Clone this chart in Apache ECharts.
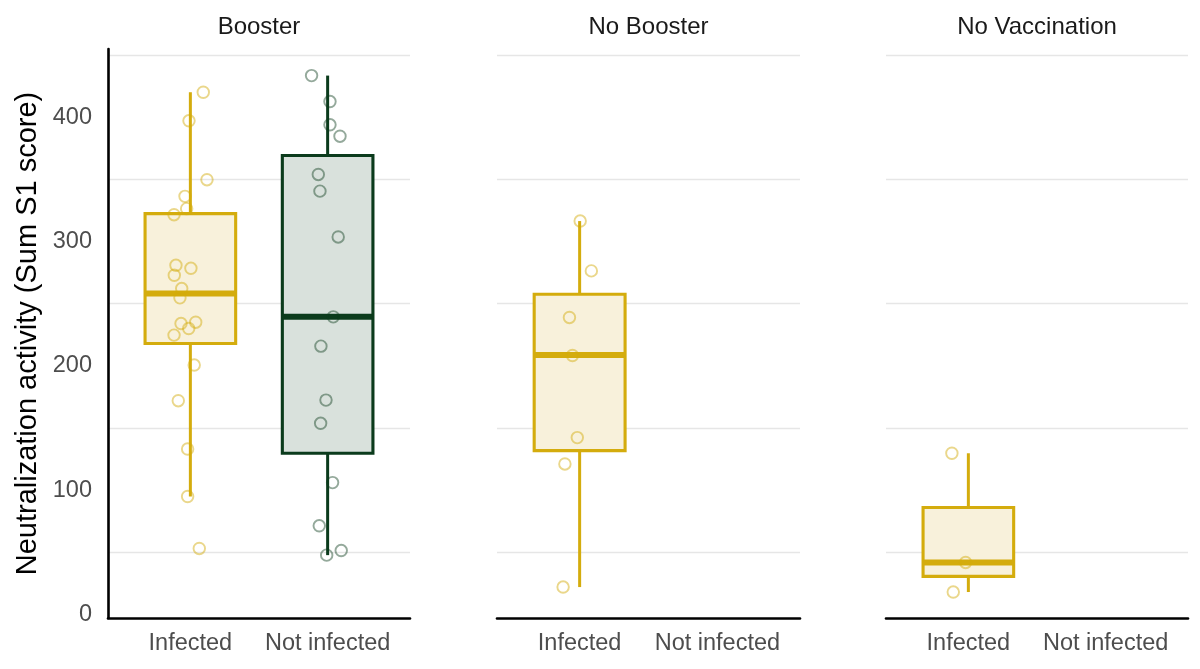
<!DOCTYPE html>
<html>
<head>
<meta charset="utf-8">
<script src="https://cdn.jsdelivr.net/npm/echarts@6.0.0/dist/echarts.min.js"></script>
<style>
html,body{margin:0;padding:0;background:#fff;}
#chart{width:1200px;height:669px;}
</style>
</head>
<body>
<div id="chart"></div>
<script>
// ---- data ----
const facets = ['Booster', 'No Booster', 'No Vaccination'];
const groups = ['Infected', 'Not infected'];
const yTicks = [0, 100, 200, 300, 400];
const yGridValues = [50, 150, 250, 350, 450];

// box stats: [x, lowerWhisker, q1, median, q3, upperWhisker]
const boosterInfectedBox = [[1, 94.8, 218, 258.2, 322.5, 420.2]];
const boosterNotInfectedBox = [[2, 47.6, 129.6, 239.4, 369.3, 433.6]];
const noBoosterInfectedBox = [[1, 21.9, 131.7, 208.6, 257.6, 316.5]];
const noBoosterNotInfectedBox = [];
const noVaxInfectedBox = [[1, 17.9, 30.5, 41.7, 86, 129.6]];
const noVaxNotInfectedBox = [];

// jittered points: [x, value]
const boosterInfectedPts = [[1.094,420.2],[0.99,397.2],[1.121,349.8],[0.961,336.4],[0.973,326.5],[0.881,321.6],[0.895,280.9],[1.004,278.5],[0.883,272.9],[0.937,262.2],[0.924,254.7],[0.932,234],[1.039,235.1],[0.988,230],[0.881,224.7],[1.028,200.6],[0.912,171.9],[0.98,133],[0.98,94.8],[1.065,53]];
const boosterNotInfectedPts = [[1.883,433.6],[2.017,412.7],[2.017,394],[2.09,384.8],[1.932,354],[1.944,340.6],[2.077,303.7],[2.041,239.4],[1.951,215.8],[1.988,172.4],[1.949,153.7],[2.036,106],[1.939,71.2],[1.993,47.6],[2.099,51.3]];
const noBoosterInfectedPts = [[1.004,316.5],[1.085,276.4],[0.926,238.9],[0.948,208.3],[0.983,142.2],[0.893,121],[0.88,21.9]];
const noBoosterNotInfectedPts = [];
const noVaxInfectedPts = [[0.88,129.6],[0.98,41.7],[0.89,17.9]];
const noVaxNotInfectedPts = [];

// ---- styles ----
const FONT = "'Liberation Sans', Arial, Helvetica, sans-serif";
const styles = {
  'Infected': {stroke: '#D4AC0D', fill: '#F8F1DB', point: 'rgba(212,172,13,0.6)'},
  'Not infected': {stroke: '#0B3B1C', fill: '#D9E1DC', point: 'rgba(11,59,28,0.55)'}
};
const BOX_W = 0.66;
const panelLefts = [108, 497, 886];
const panelWidths = [302, 303, 302];

const boxData = [
  [boosterInfectedBox, boosterNotInfectedBox],
  [noBoosterInfectedBox, noBoosterNotInfectedBox],
  [noVaxInfectedBox, noVaxNotInfectedBox]
];
const ptData = [
  [boosterInfectedPts, boosterNotInfectedPts],
  [noBoosterInfectedPts, noBoosterNotInfectedPts],
  [noVaxInfectedPts, noVaxNotInfectedPts]
];

function makeRender(st) {
  return function (params, api) {
    const x = api.value(0);
    const lo = api.coord([x, api.value(1)]);
    const q1 = api.coord([x, api.value(2)]);
    const md = api.coord([x, api.value(3)]);
    const q3 = api.coord([x, api.value(4)]);
    const hi = api.coord([x, api.value(5)]);
    const w = api.size([BOX_W, 0])[0];
    const cx = lo[0];
    return {
      type: 'group',
      children: [
        {type: 'line', shape: {x1: cx, y1: lo[1], x2: cx, y2: q1[1]}, style: {stroke: st.stroke, lineWidth: 3}},
        {type: 'line', shape: {x1: cx, y1: hi[1], x2: cx, y2: q3[1]}, style: {stroke: st.stroke, lineWidth: 3}},
        {type: 'rect', shape: {x: cx - w / 2, y: q3[1], width: w, height: q1[1] - q3[1]}, style: {fill: st.fill, stroke: st.stroke, lineWidth: 3.1}},
        {type: 'line', shape: {x1: cx - w / 2, y1: md[1], x2: cx + w / 2, y2: md[1]}, style: {stroke: st.stroke, lineWidth: 6}}
      ]
    };
  };
}

const grids = [], xAxes = [], yAxes = [], series = [], graphics = [];
facets.forEach(function (f, i) {
  grids.push({left: panelLefts[i], width: panelWidths[i], top: 49, bottom: 51, containLabel: false});
  xAxes.push({
    gridIndex: i, type: 'value', min: 0.4, max: 2.6,
    axisLine: {show: true, onZero: false, lineStyle: {color: '#000', width: 2.6}},
    axisTick: {show: false, customValues: [1, 2]},
    splitLine: {show: false},
    axisLabel: {
      customValues: [1, 2], margin: 14,
      formatter: function (v) { return groups[Math.round(v) - 1]; },
      color: '#4D4D4D', fontSize: 23.5, fontFamily: FONT
    }
  });
  yAxes.push({
    gridIndex: i, type: 'value', min: -3, max: 455,
    name: i === 0 ? 'Neutralization activity (Sum S1 score)' : '',
    nameLocation: 'middle', nameRotate: 90, nameGap: 66,
    nameTextStyle: {color: '#000', fontSize: 29, fontFamily: FONT},
    axisLine: {show: i === 0, onZero: false, lineStyle: {color: '#000', width: 2.6}},
    axisTick: {show: false, customValues: yGridValues},
    axisLabel: {show: i === 0, customValues: yTicks, margin: 16, color: '#4D4D4D', fontSize: 23.5, fontFamily: FONT},
    splitLine: {show: true, lineStyle: {color: '#E6E6E6', width: 1.3}}
  });
  groups.forEach(function (g, j) {
    const st = styles[g];
    series.push({
      type: 'custom', name: f + ' ' + g, xAxisIndex: i, yAxisIndex: i,
      renderItem: makeRender(st), data: boxData[i][j],
      encode: {x: 0, y: [1, 2, 3, 4, 5]}, z: 2, silent: true
    });
    series.push({
      type: 'scatter', name: f + ' ' + g + ' pts', xAxisIndex: i, yAxisIndex: i,
      data: ptData[i][j], symbol: 'circle', symbolSize: 11.5,
      itemStyle: {color: 'rgba(255,255,255,0)', borderColor: st.point, borderWidth: 1.9},
      z: 3, silent: true
    });
  });
  graphics.push({
    type: 'text', x: panelLefts[i] + panelWidths[i] / 2, y: 27,
    style: {text: f, textAlign: 'center', textVerticalAlign: 'middle', fill: '#1A1A1A', fontSize: 24, fontFamily: FONT}
  });
});

const chart = echarts.init(document.getElementById('chart'), null, {renderer: 'canvas'});
chart.setOption({
  animation: false,
  backgroundColor: '#fff',
  grid: grids, xAxis: xAxes, yAxis: yAxes, series: series, graphic: graphics
});
</script>
</body>
</html>
